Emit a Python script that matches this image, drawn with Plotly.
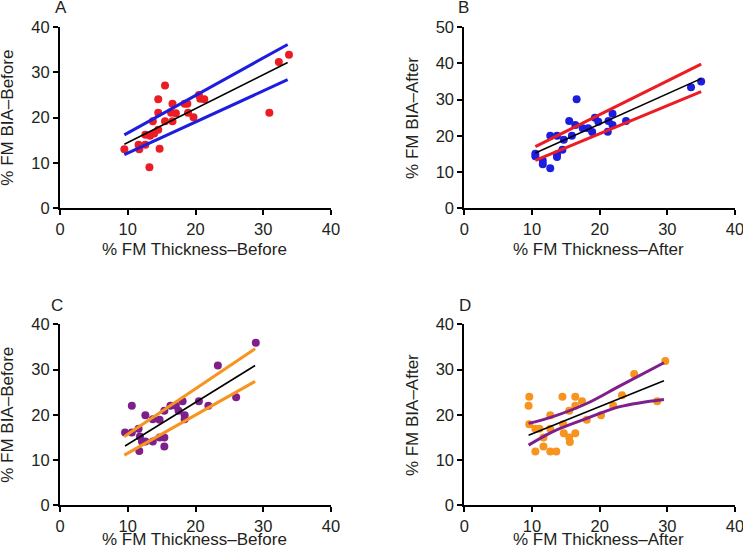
import plotly.graph_objects as go

# ---------------- data ----------------
# Panel A: % FM Thickness-Before vs % FM BIA-Before (red points)
a_x = [9.5, 11.6, 11.7, 12.6, 12.6, 13.2, 13.3, 13.9, 13.7, 14.5, 14.5, 14.5, 14.7, 15.5, 15.5,
       16.6, 16.4, 16.6, 17.1, 18.4, 18.8, 18.9, 19.7, 20.5, 20.7, 21.3, 30.9, 32.3, 33.8]
a_y = [13, 14, 13, 14, 16.2, 9, 16, 16.5, 19.2, 24.1, 21.1, 17.3, 13.1, 27.1, 19.2,
       23.1, 21.1, 19.2, 21, 23.1, 23.1, 21.1, 20.1, 25, 24.2, 24.1, 21.1, 32.3, 33.9]
a_fit_x = [9.5, 33.6]
a_fit_y = [14.1, 32.2]
a_up_x = [9.5, 33.6]
a_up_y = [16.2, 36.2]
a_lo_x = [9.5, 33.6]
a_lo_y = [11.8, 28.4]

# Panel B: % FM Thickness-After vs % FM BIA-After (blue points)
b_x = [10.5, 10.5, 11.6, 11.6, 12.7, 12.7, 13.7, 13.7, 13.7, 14.5, 14.7, 15.5, 15.9, 16.4,
       16.6, 17.5, 18.3, 18.9, 19.3, 19.8, 21.2, 21.3, 21.9, 21.9, 23.9, 33.5, 35.0]
b_y = [15.0, 14.3, 13.1, 12.1, 20, 11.0, 20, 14.9, 14.1, 16.1, 18.9, 24.1, 20, 23,
       30.1, 22.1, 22.1, 21, 25, 23.9, 21.1, 24.1, 26.1, 23, 24.1, 33.4, 35]
b_fit_x = [10.5, 35.0]
b_fit_y = [15.2, 35.8]
b_up_x = [10.5, 35.0]
b_up_y = [17.0, 39.8]
b_lo_x = [10.5, 35.0]
b_lo_y = [13.2, 32.2]

# Panel C: % FM Thickness-Before vs % FM BIA-Before (purple points)
c_x = [9.6, 10.6, 10.6, 11.6, 11.7, 11.8, 12.1, 12.6, 12.6, 13.7, 13.7, 14.7, 14.7, 15.4,
       15.4, 15.4, 16.3, 17.1, 17.5, 18.1, 18.4, 18.4, 20.5, 21.9, 23.3, 26.0, 28.9]
c_y = [16.1, 22, 16.1, 16.9, 12, 15.2, 14.1, 19.9, 14.1, 19, 14.1, 15, 18.9, 20.9,
       15, 13, 22, 22, 20.9, 23, 19.9, 19, 23, 22, 30.9, 23.9, 35.9]
c_fit_x = [9.6, 28.8]
c_fit_y = [13.1, 30.9]
c_up_x = [9.5, 28.8]
c_up_y = [15.2, 34.6]
c_lo_x = [9.5, 28.8]
c_lo_y = [11.1, 27.4]

# Panel D: % FM Thickness-After vs % FM BIA-After (orange points)
d_x = [9.6, 9.5, 9.6, 10.5, 10.5, 11.1, 11.7, 11.7, 12.7, 12.7, 12.7, 13.6, 14.5, 14.6, 14.7,
       15.5, 15.6, 15.5, 16.4, 16.4, 16.4, 17.4, 18.1, 20.2, 22.0, 23.3, 25.1, 28.5, 29.7]
d_y = [24, 22, 17.9, 16.9, 11.9, 16.9, 15, 13, 19.9, 16.9, 11.9, 11.9, 24, 17.9, 15.9,
       15, 14, 20.9, 24, 22, 15.9, 23, 18.9, 19.9, 22, 24.3, 29, 23, 31.9]
d_fit_x = [9.5, 29.5]
d_fit_y = [15.5, 27.5]
d_up_x = [9.5, 13.1, 18.1, 23.0, 29.5]
d_up_y = [18.1, 19.6, 22.5, 26.4, 31.5]
d_lo_x = [9.5, 13.1, 18.1, 23.0, 29.5]
d_lo_y = [13.3, 16.3, 19.2, 21.8, 23.4]

x_ticks = [0, 10, 20, 30, 40]

RED = "#ec1c24"
BLUE = "#1d1de0"
PURPLE = "#7f1f8c"
ORANGE = "#f7941d"

panels = [
    dict(x=a_x, y=a_y, fx=a_fit_x, fy=a_fit_y, ux=a_up_x, uy=a_up_y, lx=a_lo_x, ly=a_lo_y,
         pc=RED, bc=BLUE, ymax=40, letter="A",
         xt="% FM Thickness–Before", yt="% FM BIA–Before"),
    dict(x=b_x, y=b_y, fx=b_fit_x, fy=b_fit_y, ux=b_up_x, uy=b_up_y, lx=b_lo_x, ly=b_lo_y,
         pc=BLUE, bc=RED, ymax=50, letter="B",
         xt="% FM Thickness–After", yt="% FM BIA–After"),
    dict(x=c_x, y=c_y, fx=c_fit_x, fy=c_fit_y, ux=c_up_x, uy=c_up_y, lx=c_lo_x, ly=c_lo_y,
         pc=PURPLE, bc=ORANGE, ymax=40, letter="C",
         xt="% FM Thickness–Before", yt="% FM BIA–Before"),
    dict(x=d_x, y=d_y, fx=d_fit_x, fy=d_fit_y, ux=d_up_x, uy=d_up_y, lx=d_lo_x, ly=d_lo_y,
         pc=ORANGE, bc=PURPLE, ymax=40, letter="D",
         xt="% FM Thickness–After", yt="% FM BIA–After"),
]

W, H = 743, 546
# pixel boxes of each plot area: (left, right, top, bottom)
boxes = [(60, 331, 27.3, 208), (464.3, 735, 27.3, 208),
         (60, 331, 324.3, 505.3), (464.3, 735, 324.3, 505.3)]
# pixel positions of letters (x, y) and x-title centre y
letters = [(61, 8), (463, 8), (57, 305), (465, 305)]
xtitle_y = [249, 249, 539, 539]

FONT = "Liberation Sans, Arial, Helvetica, sans-serif"
TXT = "#231f20"
TICK_SIZE = 16.5
TITLE_SIZE = 17

fig = go.Figure()
layout = dict(width=W, height=H, margin=dict(l=0, r=0, t=0, b=0, autoexpand=False),
              paper_bgcolor="white", plot_bgcolor="white", showlegend=False,
              font=dict(family=FONT, size=16, color=TXT))
annotations = []

for i, (p, box) in enumerate(zip(panels, boxes)):
    n = "" if i == 0 else str(i + 1)
    xa, ya = "x" + n, "y" + n
    l, r, t, b = box
    layout["xaxis" + n] = dict(domain=[l / W, r / W], range=[0, 40], anchor=ya,
                               tickvals=x_ticks, showline=True, linecolor="black", linewidth=2,
                               ticks="outside", ticklen=5, tickwidth=2, tickcolor="black",
                               showgrid=False, zeroline=False, automargin=False,
                               ticklabeloverflow="allow",
                               tickfont=dict(family=FONT, size=TICK_SIZE, color=TXT))
    yticks = list(range(0, p["ymax"] + 1, 10))
    layout["yaxis" + n] = dict(domain=[(H - b) / H, (H - t) / H], range=[0, p["ymax"]], anchor=xa,
                               tickvals=yticks, showline=True, linecolor="black", linewidth=2,
                               ticks="outside", ticklen=5, tickwidth=2, tickcolor="black",
                               showgrid=False, zeroline=False, automargin=False,
                               ticklabeloverflow="allow",
                               tickfont=dict(family=FONT, size=TICK_SIZE, color=TXT))
    fig.add_trace(go.Scatter(x=p["x"], y=p["y"], mode="markers", xaxis=xa, yaxis=ya,
                             marker=dict(color=p["pc"], size=8, line=dict(width=0)),
                             cliponaxis=False))
    fig.add_trace(go.Scatter(x=p["ux"], y=p["uy"], mode="lines", xaxis=xa, yaxis=ya,
                             line=dict(color=p["bc"], width=3, shape="spline")))
    fig.add_trace(go.Scatter(x=p["lx"], y=p["ly"], mode="lines", xaxis=xa, yaxis=ya,
                             line=dict(color=p["bc"], width=3, shape="spline")))
    fig.add_trace(go.Scatter(x=p["fx"], y=p["fy"], mode="lines", xaxis=xa, yaxis=ya,
                             line=dict(color="black", width=1.6)))
    lx_, ly_ = letters[i]
    annotations.append(dict(text=p["letter"], xref="paper", yref="paper",
                            x=lx_ / W, y=(H - ly_) / H, xanchor="center", yanchor="middle",
                            showarrow=False, font=dict(family=FONT, size=TITLE_SIZE, color=TXT)))
    annotations.append(dict(text=p["xt"], xref="paper", yref="paper",
                            x=((l + r) / 2 - 1) / W, y=(H - xtitle_y[i]) / H,
                            xanchor="center", yanchor="middle", showarrow=False,
                            font=dict(family=FONT, size=TITLE_SIZE, color=TXT)))
    annotations.append(dict(text=p["yt"], xref="paper", yref="paper", textangle=-90,
                            x=(l - 52) / W, y=(H - (t + b) / 2) / H,
                            xanchor="center", yanchor="middle", showarrow=False,
                            font=dict(family=FONT, size=TITLE_SIZE, color=TXT)))

layout["annotations"] = annotations
fig.update_layout(**layout)
fig.write_html("out.html", config={"displayModeBar": False},
               post_script="document.body.style.margin='0';document.body.style.overflow='hidden';")
